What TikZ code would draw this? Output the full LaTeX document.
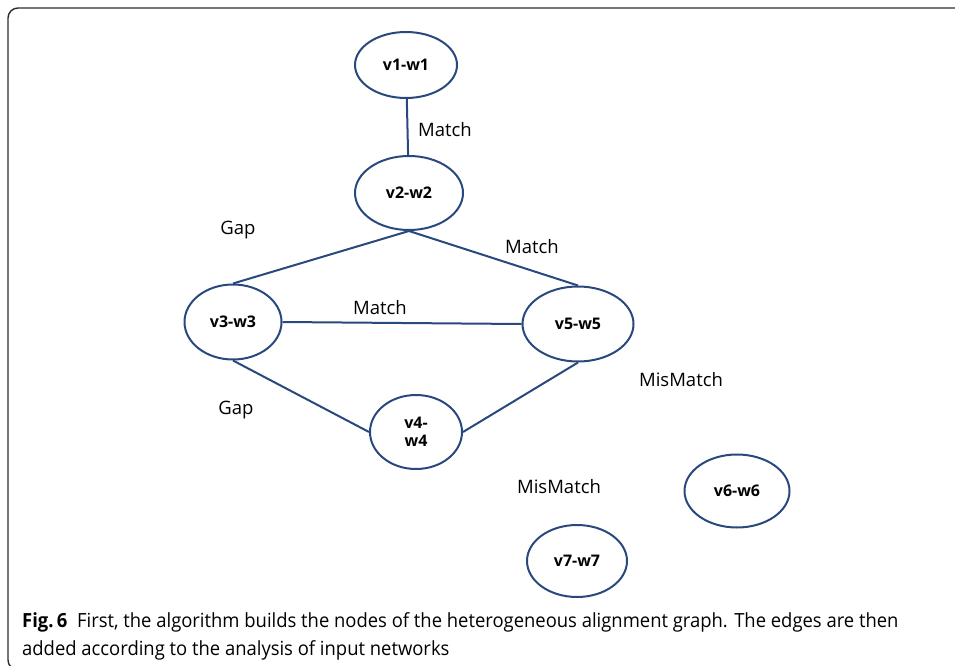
\documentclass[tikz,border=0pt]{standalone}
\usepackage{fontspec}
\setmainfont{Open Sans}
\newfontfamily\capfont{Open Sans}[FakeStretch=0.945]
\usetikzlibrary{shapes.geometric}
\definecolor{netblue}{RGB}{41,72,125}
\definecolor{framegray}{RGB}{45,45,45}
\begin{document}
\begin{tikzpicture}[x=1pt,y=-1pt,
  vert/.style={ellipse, draw=netblue, line width=2pt, inner sep=0pt,
    align=center, font=\bfseries\fontsize{16}{18}\selectfont},
  link/.style={draw=netblue, line width=2pt},
  lbl/.style={font=\fontsize{18.5}{21}\selectfont, inner sep=0pt},
  frame/.style={draw=framegray, line width=1.4pt, rounded corners=10pt}]
\useasboundingbox (0,0) rectangle (955,666);
\clip (0,0) rectangle (955,666);

% outer panel border
\draw[frame] (960,8) -- (8,8) -- (8,670) -- (40,670);

% vertices of the alignment graph
\node[vert, minimum width=102pt, minimum height=66pt] (v1) at (406,65) {v1-w1};
\node[vert, minimum width=108pt, minimum height=74pt] (v2) at (409,193) {v2-w2};
\node[vert, minimum width=97pt, minimum height=75pt] (v3) at (233,322) {v3-w3};
\node[vert, minimum width=92pt, minimum height=74pt] (v4) at (416,432) {v4-\\w4};
\node[vert, minimum width=111pt, minimum height=75pt] (v5) at (578,324) {v5-w5};
\node[vert, minimum width=105pt, minimum height=73pt] (v6) at (737,491) {v6-w6};
\node[vert, minimum width=100pt, minimum height=72pt] (v7) at (577,561) {v7-w7};

% edges
\draw[link] (v1) -- (v2);
\draw[link] (v2.south) -- (v3.north);
\draw[link] (v2.south) -- (v5.north);
\draw[link] (v3.east) -- (v5.west);
\draw[link] (v3.south) -- (v4.west);
\draw[link] (v4.east) -- (v5.south);

% edge labels
\node[lbl] (l12) at (445,130) {Match};
\node[lbl] (lg1) at (238,230) {Gap};
\node[lbl] (l25) at (532,247) {Match};
\node[lbl] (l35) at (380,308) {Match};
\node[lbl] (lg2) at (236,410) {Gap};
\node[lbl] (lm1) at (681,380) {MisMatch};
\node[lbl] (lm2) at (559,487) {MisMatch};

% caption
\node[anchor=base west, inner sep=0pt, align=left,
  font=\capfont\fontsize{19.5}{28}\selectfont] (cap) at (22,655)
  {{\bfseries Fig.\,6}\enspace First, the algorithm builds the nodes of the heterogeneous alignment graph. The edges are then\\
   added according to the analysis of input networks};
\end{tikzpicture}
\end{document}
